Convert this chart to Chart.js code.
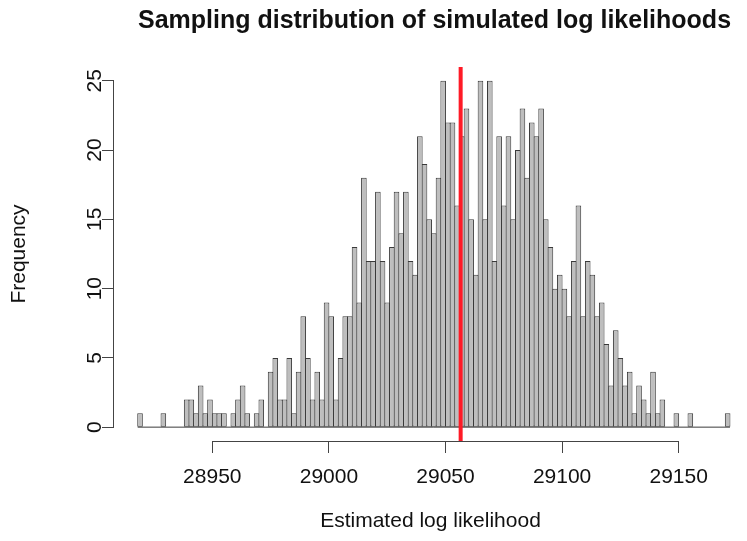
<!DOCTYPE html>
<html>
<head>
<meta charset="utf-8">
<script src="https://cdn.jsdelivr.net/npm/chart.js@4/dist/chart.umd.min.js"></script>
<style>
  body { margin: 0; background: #fff; }
</style>
</head>
<body>
<canvas id="chart" width="747" height="541"></canvas>
<script>
// histogram data: bins of width 2 starting at 28918
const binStart = 28918;
const binWidth = 2;
const counts = [
    1, 0, 0, 0, 0, 1, 0, 0, 0, 0,
    2, 2, 1, 3, 1, 2, 1, 1, 1, 0,
    1, 2, 3, 1, 0, 1, 2, 0, 4, 5,
    2, 2, 5, 1, 4, 8, 5, 2, 4, 2,
    9, 8, 2, 5, 8, 8, 13, 9, 18, 12,
    12, 17, 12, 9, 13, 17, 14, 17, 12, 11,
    21, 19, 15, 14, 18, 25, 22, 22, 16, 21,
    23, 15, 11, 25, 15, 25, 12, 21, 16, 21,
    15, 20, 23, 18, 22, 21, 23, 15, 13, 10,
    11, 10, 8, 12, 16, 8, 12, 11, 8, 9,
    6, 3, 7, 5, 3, 4, 1, 3, 2, 1,
    4, 1, 2, 0, 0, 1, 0, 0, 1, 0,
    0, 0, 0, 0, 0, 0, 1
];
const xTicks = [28950, 29000, 29050, 29100, 29150];
const yTicks = [0, 5, 10, 15, 20, 25];
const observedLogLik = 29056.5;

const chartTitle = "Sampling distribution of simulated log likelihoods";
const xTitle = "Estimated log likelihood";
const yTitle = "Frequency";

// bar data from the bins
const barData = counts.map((c, i) => ({ x: binStart + binWidth * (i + 0.5), y: c }));
const lastEdge = binStart + binWidth * counts.length;

Chart.defaults.font.family = '"Liberation Sans", Arial, Helvetica, sans-serif';
Chart.defaults.color = "#111";

// R style axis lines (only between first and last tick) and the main title
const rAxes = {
    id: "rAxes",
    afterDraw(chart) {
        const { ctx, chartArea } = chart;
        const x = chart.scales.x;
        const y = chart.scales.y;
        ctx.save();
        ctx.strokeStyle = "#444";
        ctx.lineWidth = 1;
        ctx.beginPath();
        const by = Math.round(chartArea.bottom) + 0.5;
        ctx.moveTo(x.getPixelForValue(xTicks[0]), by);
        ctx.lineTo(x.getPixelForValue(xTicks[xTicks.length - 1]), by);
        const lx = Math.round(chartArea.left) - 0.5;
        ctx.moveTo(lx, y.getPixelForValue(yTicks[0]));
        ctx.lineTo(lx, y.getPixelForValue(yTicks[yTicks.length - 1]));
        ctx.stroke();

        ctx.fillStyle = "#111";
        ctx.font = 'bold 25px "Liberation Sans", Arial, sans-serif';
        ctx.textAlign = "center";
        ctx.textBaseline = "alphabetic";
        ctx.fillText(chartTitle, (chartArea.left + chartArea.right) / 2 + 4, 28);
        ctx.restore();
    }
};

new Chart(document.getElementById("chart"), {
    type: "bar",
    data: {
        datasets: [
            {
                type: "line",
                data: [{ x: observedLogLik, y: -1 }, { x: observedLogLik, y: 26 }],
                borderColor: "#ff1a26",
                borderWidth: 4,
                pointRadius: 0,
                fill: false,
                order: 0
            },
            {
                type: "line",
                data: [{ x: binStart, y: 0 }, { x: lastEdge, y: 0 }],
                borderColor: "#3a3a3a",
                borderWidth: 1,
                pointRadius: 0,
                fill: false,
                order: 1
            },
            {
                type: "bar",
                data: barData,
                backgroundColor: "#bebebe",
                borderColor: "#3a3a3a",
                borderWidth: 1,
                borderSkipped: false,
                barPercentage: 1.2,
                categoryPercentage: 1,
                order: 2
            }
        ]
    },
    options: {
        responsive: false,
        devicePixelRatio: 1,
        animation: false,
        layout: { padding: { top: 67, left: 0, right: 0, bottom: 0 } },
        plugins: {
            legend: { display: false },
            tooltip: { enabled: false }
        },
        scales: {
            x: {
                type: "linear",
                min: 28907.84,
                max: 29179.3,
                offset: false,
                afterBuildTicks: s => { s.ticks = xTicks.map(v => ({ value: v })); },
                afterFit: s => { s.height = 100; },
                border: { display: false },
                grid: { drawOnChartArea: false, drawTicks: true, tickLength: 12, color: "#444", offset: false },
                ticks: {
                    autoSkip: false,
                    maxRotation: 0,
                    padding: 12,
                    font: { size: 21 },
                    color: "#111",
                    callback: v => String(v)
                },
                title: {
                    display: true,
                    text: xTitle,
                    font: { size: 21 },
                    color: "#111",
                    padding: { top: 0, bottom: 7 }
                }
            },
            y: {
                min: -1,
                max: 26,
                afterBuildTicks: s => { s.ticks = yTicks.map(v => ({ value: v })); },
                afterFit: s => { s.width = 114; },
                border: { display: false },
                grid: { drawOnChartArea: false, drawTicks: true, tickLength: 12, color: "#444" },
                ticks: {
                    autoSkip: false,
                    minRotation: 90,
                    maxRotation: 90,
                    crossAlign: "center",
                    padding: -5,
                    font: { size: 21 },
                    color: "#111"
                },
                title: {
                    display: true,
                    text: yTitle,
                    font: { size: 21 },
                    color: "#111",
                    padding: { top: 7, bottom: 0 }
                }
            }
        }
    },
    plugins: [rAxes]
});
</script>
</body>
</html>
